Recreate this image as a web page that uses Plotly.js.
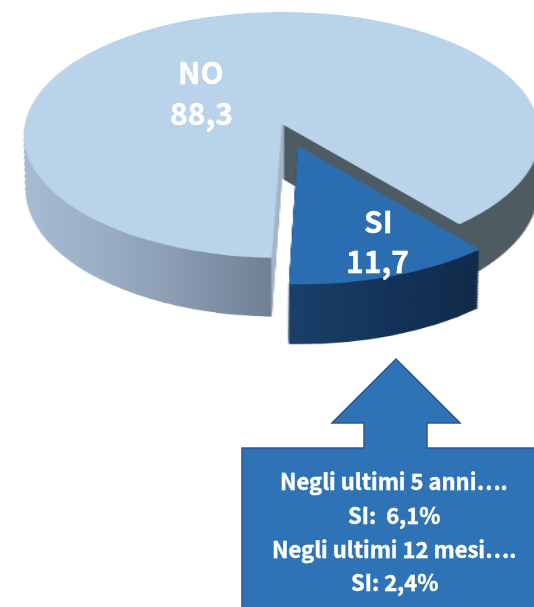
<!DOCTYPE html>
<html>
<head>
<meta charset="utf-8">
<script src="https://cdn.plot.ly/plotly-3.0.1.min.js"></script>
<style>
html,body{margin:0;padding:0;width:534px;height:607px;overflow:hidden;background:#fff}
#pie{position:absolute;left:-18px;top:-126px;width:600px;height:600px;transform-origin:300px 250px;
transform:matrix3d(1.285,0,0,0, 0,0.61,0,-0.000447, 0,0,1,0, 0,0,0,1)}
#over{position:absolute;left:0;top:0;width:534px;height:607px}
#over .annotation-text{stroke:#ffffff;stroke-width:0.4px}
</style>
</head>
<body>
<div id="pie"></div>
<div id="over"></div>
<script>
const categories = ['NO', 'SI'];
const values = [88.3, 11.7];
const pieLabels = ['NO', '88,3', 'SI', '11,7'];
const boxLines = ['Negli ultimi 5 anni….', 'SI:  6,1%', 'Negli ultimi 12 mesi….', 'SI: 2,4%'];
const topColors = ['#b9d3ea', '#2b6db1'];
const wallColors = ['url(#wallNo)', 'url(#wallSi)'];

const SIZE = 600, CX = 300, CY = 250, R = 200, PULL = 0.187, ROT = 182.1;
const STEPS = 40, DEPTH = 0.43, SHRINK = 0.045;

const traces = [];
for (let k = STEPS; k >= 0; k--) {
  const t = k / STEPS;
  const r = R * (1 - SHRINK * t);
  const half = r * (1 + PULL);
  const cy = CY + DEPTH * R * t;
  traces.push({
    type: 'pie', labels: categories, values: values, sort: false,
    direction: 'clockwise', rotation: ROT, pull: [0, PULL],
    textinfo: 'none', hoverinfo: 'skip',
    marker: {colors: k === 0 ? topColors : ['#7f91a5', '#163a63'], line: {width: 0}},
    domain: {x: [(CX - half) / SIZE, (CX + half) / SIZE],
             y: [1 - (cy + half) / SIZE, 1 - (cy - half) / SIZE]}
  });
}

const pieDiv = document.getElementById('pie');
Plotly.newPlot(pieDiv, traces, {
  width: SIZE, height: SIZE, margin: {l: 0, r: 0, t: 0, b: 0},
  showlegend: false, paper_bgcolor: 'rgba(0,0,0,0)', plot_bgcolor: 'rgba(0,0,0,0)'
}, {staticPlot: true, displayModeBar: false}).then(function () {
  const svg = pieDiv.querySelector('svg.main-svg');
  const ns = 'http://www.w3.org/2000/svg';
  const defs = svg.querySelector('defs') || svg.insertBefore(document.createElementNS(ns, 'defs'), svg.firstChild);
  function grad(id, stops) {
    const g = document.createElementNS(ns, 'linearGradient');
    g.setAttribute('id', id);
    stops.forEach(function (s) {
      const e = document.createElementNS(ns, 'stop');
      e.setAttribute('offset', s[0]);
      e.setAttribute('stop-color', s[1]);
      g.appendChild(e);
    });
    defs.appendChild(g);
  }
  grad('wallNo', [[0, '#a7bbd3'], [0.16, '#9bafc7'], [0.3, '#8b9eb4'], [0.48, '#6f8094'],
                  [0.482, '#a3b4c8'], [0.503, '#a3b4c8'], [0.505, '#4f5b63'], [1, '#4f5b63']]);
  grad('wallSi', [[0, '#1a4069'], [0.5, '#14335a'], [1, '#112a48']]);
  const layers = pieDiv.querySelectorAll('.pielayer .trace');
  layers.forEach(function (tr, i) {
    if (i === layers.length - 1) return;
    tr.querySelectorAll('.slice').forEach(function (sl, j) {
      const p = sl.querySelector('path.surface');
      if (p) p.style.fill = wallColors[j];
    });
  });
});

function px(x) { return x / 534; }
function py(y) { return 1 - y / 607; }
function note(text, x, y, size) {
  return {text: text, x: px(x), y: py(y), xref: 'paper', yref: 'paper', showarrow: false,
          xanchor: 'center', yanchor: 'middle',
          font: {family: '"Noto Sans CJK SC", sans-serif', size: size, color: '#ffffff', weight: 700}};
}
const arrowPoints = [[396,359],[460,423],[427,423],[427,448],[540,448],[540,612],[242,612],[242,448],[364,448],[364,423],[332,423]];
const arrowPath = 'M' + arrowPoints.map(function (p) { return px(p[0]) + ',' + py(p[1]); }).join('L') + 'Z';

Plotly.newPlot('over', [], {
  width: 534, height: 607, margin: {l: 0, r: 0, t: 0, b: 0},
  showlegend: false, paper_bgcolor: 'rgba(0,0,0,0)', plot_bgcolor: 'rgba(0,0,0,0)',
  xaxis: {visible: false}, yaxis: {visible: false},
  shapes: [{type: 'path', xref: 'paper', yref: 'paper', path: arrowPath,
            fillcolor: '#2e73b5', line: {color: '#2f5597', width: 1.5}}],
  annotations: [
    note(pieLabels[0], 201, 71, 30), note(pieLabels[1], 201, 112, 30),
    note(pieLabels[2], 378, 220, 30), note(pieLabels[3], 377, 260, 30),
    note(boxLines[0], 394, 480, 22), note(boxLines[1], 394, 514, 22),
    note(boxLines[2], 394, 548, 22), note(boxLines[3], 394, 581, 22)
  ]
}, {staticPlot: true, displayModeBar: false});
</script>
</body>
</html>
